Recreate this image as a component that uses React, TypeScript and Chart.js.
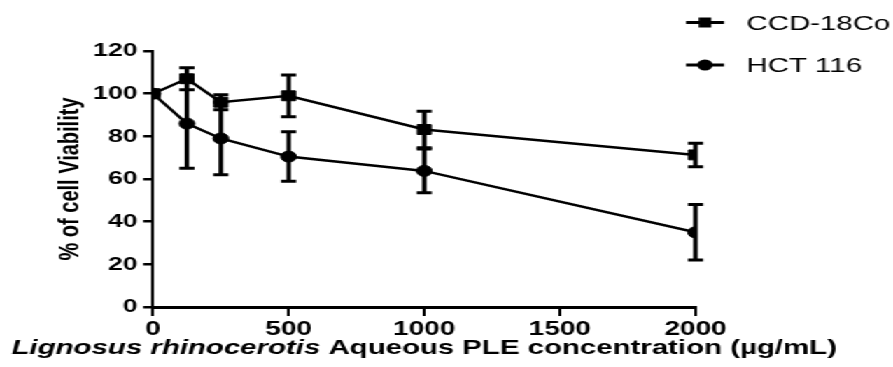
import React, { useEffect, useRef } from "react";
import { Chart, registerables } from "chart.js";

Chart.register(...registerables);

// ---- data ----
const concentrations = [0, 125, 250, 500, 1000, 2000];
const ccdViability = [100, 107, 96, 99, 83.2, 71.3];
const ccdError = [0, 5.2, 3.5, 9.8, 8.6, 5.5];
const hctViability = [100, 86, 79, 70.5, 63.8, 35];
const hctError = [0, 21, 17, 11.6, 10.3, 13];
const seriesNames = ["CCD-18Co", "HCT 116"];
const yTicks = [0, 20, 40, 60, 80, 100, 120];
const xTicks = [0, 500, 1000, 1500, 2000];
const yTitle = "% of cell Viability";
const xTitleItalic = "Lignosus rhinocerotis";
const xTitleRest = " Aqueous PLE concentration (µg/mL)";

// ---- layout (canvas is drawn narrow and stretched horizontally like the reference) ----
const OUT_W = 893;
const H = 367;
const W = 638;
const SX = OUT_W / W;
const FONT = "'Liberation Sans', Arial, Helvetica, sans-serif";
const PLOT_LEFT = 153 / SX;
const PLOT_RIGHT = 695.5 / SX;
const PLOT_TOP = 51;
const PLOT_BOTTOM = 307;

const errorSets = [ccdError, hctError];

const errorBarPlugin = {
  id: "errorBars",
  afterDatasetsDraw(chart: any) {
    const { ctx } = chart;
    const xs = chart.scales.x;
    const ys = chart.scales.y;
    chart.data.datasets.forEach((ds: any, i: number) => {
      const errs = errorSets[i];
      ds.data.forEach((p: any, j: number) => {
        const e = errs[j];
        if (!e) return;
        const x = xs.getPixelForValue(p.x);
        const yt = ys.getPixelForValue(p.y + e);
        const yb = ys.getPixelForValue(p.y - e);
        ctx.save();
        ctx.strokeStyle = "#000";
        ctx.lineWidth = 3.2;
        ctx.beginPath();
        ctx.moveTo(x, yt);
        ctx.lineTo(x, yb);
        ctx.stroke();
        ctx.lineWidth = 3;
        const cw = 5.4;
        ctx.beginPath();
        ctx.moveTo(x - cw, yt);
        ctx.lineTo(x + cw, yt);
        ctx.moveTo(x - cw, yb);
        ctx.lineTo(x + cw, yb);
        ctx.stroke();
        ctx.restore();
      });
    });
  },
};

const decorPlugin = {
  id: "decor",
  afterDraw(chart: any) {
    const { ctx, chartArea } = chart;
    ctx.save();
    // x-axis title with italic species name
    ctx.fillStyle = "#000";
    ctx.textBaseline = "alphabetic";
    const fItalic = `italic bold 21px ${FONT}`;
    const fBold = `bold 21px ${FONT}`;
    ctx.font = fItalic;
    const w1 = ctx.measureText(xTitleItalic).width;
    ctx.font = fBold;
    const w2 = ctx.measureText(xTitleRest).width;
    const cx = (chartArea.left + chartArea.right) / 2;
    const x0 = cx - (w1 + w2) / 2;
    const by = 353.5;
    ctx.font = fItalic;
    ctx.fillText(xTitleItalic, x0, by);
    ctx.font = fBold;
    ctx.fillText(xTitleRest, x0 + w1, by);

    // legend
    const lx0 = 686 / SX;
    const lx1 = 724 / SX;
    const lmid = (lx0 + lx1) / 2;
    const tx = 746.5 / SX;
    const rows = [
      { y: 22.5, base: 30, style: "rect" },
      { y: 65, base: 72, style: "circle" },
    ];
    rows.forEach((r, i) => {
      ctx.strokeStyle = "#000";
      ctx.lineWidth = 3;
      ctx.beginPath();
      ctx.moveTo(lx0, r.y);
      ctx.lineTo(lx1, r.y);
      ctx.stroke();
      ctx.fillStyle = "#000";
      if (r.style === "rect") {
        ctx.fillRect(lmid - 4.5, r.y - 5, 9, 10);
      } else {
        ctx.beginPath();
        ctx.arc(lmid, r.y, 5.5, 0, Math.PI * 2);
        ctx.fill();
      }
      ctx.font = `21px ${FONT}`;
      ctx.fillText(seriesNames[i], tx, r.base);
    });
    ctx.restore();
  },
};

export default function App() {
  const ref = useRef<HTMLCanvasElement | null>(null);

  useEffect(() => {
    const canvas = ref.current;
    if (!canvas) return;
    const chart = new Chart(canvas, {
      type: "line",
      data: {
        datasets: [
          {
            label: seriesNames[0],
            data: concentrations.map((c, i) => ({ x: c, y: ccdViability[i] })),
            borderColor: "#000",
            backgroundColor: "#000",
            borderWidth: 2.5,
            pointStyle: "rect",
            pointRadius: 7,
            pointBorderWidth: 1,
            pointBackgroundColor: "#000",
            pointBorderColor: "#000",
            tension: 0,
          },
          {
            label: seriesNames[1],
            data: concentrations.map((c, i) => ({ x: c, y: hctViability[i] })),
            borderColor: "#000",
            backgroundColor: "#000",
            borderWidth: 2.5,
            pointStyle: "circle",
            pointRadius: 5.5,
            pointBorderWidth: 1,
            pointBackgroundColor: "#000",
            pointBorderColor: "#000",
            tension: 0,
          },
        ],
      },
      options: {
        animation: false,
        responsive: false,
        devicePixelRatio: 1,
        layout: {
          padding: { left: 0, right: W - PLOT_RIGHT, top: PLOT_TOP, bottom: 0 },
        },
        plugins: {
          legend: { display: false },
          tooltip: { enabled: false },
        },
        scales: {
          x: {
            type: "linear",
            min: 0,
            max: 2000,
            afterBuildTicks: (scale: any) => {
              scale.ticks = xTicks.map((v) => ({ value: v }));
            },
            afterFit: (scale: any) => {
              scale.height = H - PLOT_BOTTOM;
            },
            border: { display: true, color: "#000", width: 3 },
            grid: {
              display: true,
              drawOnChartArea: false,
              drawTicks: true,
              tickLength: 9,
              color: "#000",
              lineWidth: 2,
            },
            ticks: {
              color: "#000",
              padding: 1,
              maxRotation: 0,
              autoSkip: false,
              callback: (v: any) => String(v),
              font: { family: FONT, size: 20, weight: "bold" },
            },
            title: { display: false },
          },
          y: {
            type: "linear",
            min: 0,
            max: 120,
            afterBuildTicks: (scale: any) => {
              scale.ticks = yTicks.map((v) => ({ value: v }));
            },
            afterFit: (scale: any) => {
              scale.width = PLOT_LEFT;
            },
            border: { display: true, color: "#000", width: 2 },
            grid: {
              display: true,
              drawOnChartArea: false,
              drawTicks: true,
              tickLength: 7,
              color: "#000",
              lineWidth: 2.5,
            },
            ticks: {
              color: "#000",
              padding: 4,
              autoSkip: false,
              callback: (v: any) => String(v),
              font: { family: FONT, size: 19, weight: "bold" },
            },
            title: {
              display: true,
              text: yTitle,
              color: "#000",
              padding: { top: 38, bottom: 0 },
              font: { family: FONT, size: 20, weight: "bold" },
            },
          },
        },
      },
      plugins: [errorBarPlugin, decorPlugin],
    } as any);
    return () => chart.destroy();
  }, []);

  return (
    <div
      style={{
        position: "fixed",
        left: 0,
        top: 0,
        width: W,
        height: H,
        transform: `scaleX(${SX})`,
        transformOrigin: "0 0",
        background: "#fff",
      }}
    >
      <canvas ref={ref} width={W} height={H} style={{ width: W, height: H, display: "block" }} />
    </div>
  );
}
